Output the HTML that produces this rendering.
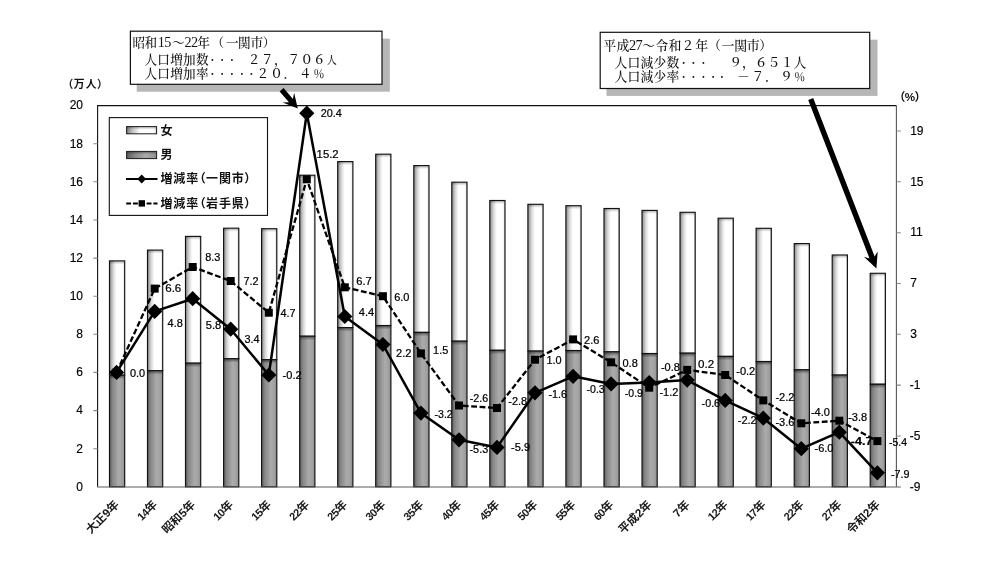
<!DOCTYPE html>
<html lang="ja"><head><meta charset="utf-8"><title>人口の推移と増減率（一関市・岩手県）</title>
<style>html,body{margin:0;padding:0;background:#fff}body{width:997px;height:567px;overflow:hidden}svg{display:block}.n{font-family:"Liberation Sans","Noto Sans CJK JP",sans-serif}.j{font-family:"Liberation Sans","Noto Sans CJK JP",sans-serif}.m{font-family:"Liberation Serif","Noto Serif CJK SC",serif}</style></head><body>
<svg width="997" height="567" viewBox="0 0 997 567">
<defs><linearGradient id="gf" x1="0" x2="1" y1="0" y2="0"><stop offset="0" stop-color="#7c7c7c"/><stop offset="0.10" stop-color="#ababab"/><stop offset="0.27" stop-color="#dedede"/><stop offset="0.46" stop-color="#ffffff"/><stop offset="0.88" stop-color="#ffffff"/><stop offset="1" stop-color="#c4c4c4"/></linearGradient><linearGradient id="gm" x1="0" x2="1" y1="0" y2="0"><stop offset="0" stop-color="#5c5c5c"/><stop offset="0.2" stop-color="#868686"/><stop offset="0.6" stop-color="#ababab"/><stop offset="0.85" stop-color="#a0a0a0"/><stop offset="1" stop-color="#888888"/></linearGradient><linearGradient id="gt" x1="0" x2="0" y1="0" y2="1"><stop offset="0" stop-color="#000" stop-opacity="0.45"/><stop offset="1" stop-color="#000" stop-opacity="0"/></linearGradient><linearGradient id="lf" x1="0" x2="1" y1="0" y2="0"><stop offset="0" stop-color="#7a7a7a"/><stop offset="0.2" stop-color="#c4c4c4"/><stop offset="0.45" stop-color="#ffffff"/><stop offset="0.9" stop-color="#ffffff"/><stop offset="1" stop-color="#d0d0d0"/></linearGradient><linearGradient id="lm" x1="0" x2="1" y1="0" y2="0"><stop offset="0" stop-color="#5a5a5a"/><stop offset="0.3" stop-color="#8c8c8c"/><stop offset="0.65" stop-color="#ababab"/><stop offset="1" stop-color="#8e8e8e"/></linearGradient></defs>
<rect x="0" y="0" width="997" height="567" fill="#fff"/>
<rect x="109.5" y="260.9" width="15.2" height="114.3" fill="url(#gf)" stroke="#111" stroke-width="1.15"/>
<rect x="110.0" y="261.4" width="14.2" height="3" fill="url(#gt)" opacity="0.6"/>
<rect x="109.5" y="375.2" width="15.2" height="111.6" fill="url(#gm)" stroke="#111" stroke-width="1.15"/>
<rect x="110.0" y="375.7" width="14.2" height="3.5" fill="url(#gt)"/>
<rect x="147.5" y="250.1" width="15.2" height="120.6" fill="url(#gf)" stroke="#111" stroke-width="1.15"/>
<rect x="148.0" y="250.6" width="14.2" height="3" fill="url(#gt)" opacity="0.6"/>
<rect x="147.5" y="370.7" width="15.2" height="116.1" fill="url(#gm)" stroke="#111" stroke-width="1.15"/>
<rect x="148.0" y="371.2" width="14.2" height="3.5" fill="url(#gt)"/>
<rect x="185.5" y="236.4" width="15.2" height="126.8" fill="url(#gf)" stroke="#111" stroke-width="1.15"/>
<rect x="186.0" y="236.9" width="14.2" height="3" fill="url(#gt)" opacity="0.6"/>
<rect x="185.5" y="363.2" width="15.2" height="123.6" fill="url(#gm)" stroke="#111" stroke-width="1.15"/>
<rect x="186.0" y="363.7" width="14.2" height="3.5" fill="url(#gt)"/>
<rect x="223.6" y="228.2" width="15.2" height="130.6" fill="url(#gf)" stroke="#111" stroke-width="1.15"/>
<rect x="224.1" y="228.7" width="14.2" height="3" fill="url(#gt)" opacity="0.6"/>
<rect x="223.6" y="358.7" width="15.2" height="128.1" fill="url(#gm)" stroke="#111" stroke-width="1.15"/>
<rect x="224.1" y="359.2" width="14.2" height="3.5" fill="url(#gt)"/>
<rect x="261.6" y="228.7" width="15.2" height="130.9" fill="url(#gf)" stroke="#111" stroke-width="1.15"/>
<rect x="262.1" y="229.2" width="14.2" height="3" fill="url(#gt)" opacity="0.6"/>
<rect x="261.6" y="359.7" width="15.2" height="127.1" fill="url(#gm)" stroke="#111" stroke-width="1.15"/>
<rect x="262.1" y="360.2" width="14.2" height="3.5" fill="url(#gt)"/>
<rect x="299.7" y="175.2" width="15.2" height="161.1" fill="url(#gf)" stroke="#111" stroke-width="1.15"/>
<rect x="300.2" y="175.7" width="14.2" height="3" fill="url(#gt)" opacity="0.6"/>
<rect x="299.7" y="336.2" width="15.2" height="150.6" fill="url(#gm)" stroke="#111" stroke-width="1.15"/>
<rect x="300.2" y="336.7" width="14.2" height="3.5" fill="url(#gt)"/>
<rect x="337.7" y="161.6" width="15.2" height="166.0" fill="url(#gf)" stroke="#111" stroke-width="1.15"/>
<rect x="338.2" y="162.1" width="14.2" height="3" fill="url(#gt)" opacity="0.6"/>
<rect x="337.7" y="327.6" width="15.2" height="159.2" fill="url(#gm)" stroke="#111" stroke-width="1.15"/>
<rect x="338.2" y="328.1" width="14.2" height="3.5" fill="url(#gt)"/>
<rect x="375.7" y="154.2" width="15.2" height="171.3" fill="url(#gf)" stroke="#111" stroke-width="1.15"/>
<rect x="376.2" y="154.7" width="14.2" height="3" fill="url(#gt)" opacity="0.6"/>
<rect x="375.7" y="325.6" width="15.2" height="161.2" fill="url(#gm)" stroke="#111" stroke-width="1.15"/>
<rect x="376.2" y="326.1" width="14.2" height="3.5" fill="url(#gt)"/>
<rect x="413.8" y="165.6" width="15.2" height="166.8" fill="url(#gf)" stroke="#111" stroke-width="1.15"/>
<rect x="414.3" y="166.1" width="14.2" height="3" fill="url(#gt)" opacity="0.6"/>
<rect x="413.8" y="332.4" width="15.2" height="154.4" fill="url(#gm)" stroke="#111" stroke-width="1.15"/>
<rect x="414.3" y="332.9" width="14.2" height="3.5" fill="url(#gt)"/>
<rect x="451.8" y="182.2" width="15.2" height="159.0" fill="url(#gf)" stroke="#111" stroke-width="1.15"/>
<rect x="452.3" y="182.7" width="14.2" height="3" fill="url(#gt)" opacity="0.6"/>
<rect x="451.8" y="341.2" width="15.2" height="145.6" fill="url(#gm)" stroke="#111" stroke-width="1.15"/>
<rect x="452.3" y="341.7" width="14.2" height="3.5" fill="url(#gt)"/>
<rect x="489.8" y="200.5" width="15.2" height="149.8" fill="url(#gf)" stroke="#111" stroke-width="1.15"/>
<rect x="490.3" y="201.0" width="14.2" height="3" fill="url(#gt)" opacity="0.6"/>
<rect x="489.8" y="350.3" width="15.2" height="136.5" fill="url(#gm)" stroke="#111" stroke-width="1.15"/>
<rect x="490.3" y="350.8" width="14.2" height="3.5" fill="url(#gt)"/>
<rect x="527.9" y="204.3" width="15.2" height="146.8" fill="url(#gf)" stroke="#111" stroke-width="1.15"/>
<rect x="528.4" y="204.8" width="14.2" height="3" fill="url(#gt)" opacity="0.6"/>
<rect x="527.9" y="351.1" width="15.2" height="135.7" fill="url(#gm)" stroke="#111" stroke-width="1.15"/>
<rect x="528.4" y="351.6" width="14.2" height="3.5" fill="url(#gt)"/>
<rect x="565.9" y="205.7" width="15.2" height="144.9" fill="url(#gf)" stroke="#111" stroke-width="1.15"/>
<rect x="566.4" y="206.2" width="14.2" height="3" fill="url(#gt)" opacity="0.6"/>
<rect x="565.9" y="350.5" width="15.2" height="136.3" fill="url(#gm)" stroke="#111" stroke-width="1.15"/>
<rect x="566.4" y="351.0" width="14.2" height="3.5" fill="url(#gt)"/>
<rect x="604.0" y="208.5" width="15.2" height="143.3" fill="url(#gf)" stroke="#111" stroke-width="1.15"/>
<rect x="604.5" y="209.0" width="14.2" height="3" fill="url(#gt)" opacity="0.6"/>
<rect x="604.0" y="351.9" width="15.2" height="134.9" fill="url(#gm)" stroke="#111" stroke-width="1.15"/>
<rect x="604.5" y="352.4" width="14.2" height="3.5" fill="url(#gt)"/>
<rect x="642.0" y="210.4" width="15.2" height="143.1" fill="url(#gf)" stroke="#111" stroke-width="1.15"/>
<rect x="642.5" y="210.9" width="14.2" height="3" fill="url(#gt)" opacity="0.6"/>
<rect x="642.0" y="353.6" width="15.2" height="133.2" fill="url(#gm)" stroke="#111" stroke-width="1.15"/>
<rect x="642.5" y="354.1" width="14.2" height="3.5" fill="url(#gt)"/>
<rect x="680.0" y="212.3" width="15.2" height="140.9" fill="url(#gf)" stroke="#111" stroke-width="1.15"/>
<rect x="680.5" y="212.8" width="14.2" height="3" fill="url(#gt)" opacity="0.6"/>
<rect x="680.0" y="353.2" width="15.2" height="133.6" fill="url(#gm)" stroke="#111" stroke-width="1.15"/>
<rect x="680.5" y="353.7" width="14.2" height="3.5" fill="url(#gt)"/>
<rect x="718.1" y="218.2" width="15.2" height="138.2" fill="url(#gf)" stroke="#111" stroke-width="1.15"/>
<rect x="718.6" y="218.7" width="14.2" height="3" fill="url(#gt)" opacity="0.6"/>
<rect x="718.1" y="356.4" width="15.2" height="130.4" fill="url(#gm)" stroke="#111" stroke-width="1.15"/>
<rect x="718.6" y="356.9" width="14.2" height="3.5" fill="url(#gt)"/>
<rect x="756.1" y="228.3" width="15.2" height="133.2" fill="url(#gf)" stroke="#111" stroke-width="1.15"/>
<rect x="756.6" y="228.8" width="14.2" height="3" fill="url(#gt)" opacity="0.6"/>
<rect x="756.1" y="361.6" width="15.2" height="125.2" fill="url(#gm)" stroke="#111" stroke-width="1.15"/>
<rect x="756.6" y="362.1" width="14.2" height="3.5" fill="url(#gt)"/>
<rect x="794.2" y="243.6" width="15.2" height="126.2" fill="url(#gf)" stroke="#111" stroke-width="1.15"/>
<rect x="794.7" y="244.1" width="14.2" height="3" fill="url(#gt)" opacity="0.6"/>
<rect x="794.2" y="369.8" width="15.2" height="117.0" fill="url(#gm)" stroke="#111" stroke-width="1.15"/>
<rect x="794.7" y="370.3" width="14.2" height="3.5" fill="url(#gt)"/>
<rect x="832.2" y="255.0" width="15.2" height="120.1" fill="url(#gf)" stroke="#111" stroke-width="1.15"/>
<rect x="832.7" y="255.5" width="14.2" height="3" fill="url(#gt)" opacity="0.6"/>
<rect x="832.2" y="375.1" width="15.2" height="111.7" fill="url(#gm)" stroke="#111" stroke-width="1.15"/>
<rect x="832.7" y="375.6" width="14.2" height="3.5" fill="url(#gt)"/>
<rect x="870.2" y="273.3" width="15.2" height="110.9" fill="url(#gf)" stroke="#111" stroke-width="1.15"/>
<rect x="870.7" y="273.8" width="14.2" height="3" fill="url(#gt)" opacity="0.6"/>
<rect x="870.2" y="384.3" width="15.2" height="102.5" fill="url(#gm)" stroke="#111" stroke-width="1.15"/>
<rect x="870.7" y="384.8" width="14.2" height="3.5" fill="url(#gt)"/>
<path d="M97.6 486.8V105.6H896.4" fill="none" stroke="#111" stroke-width="1.1"/>
<path d="M896.4 105.6V486.8" fill="none" stroke="#555" stroke-width="1.1"/>
<path d="M97.1 487.0H900.8" fill="none" stroke="#5a5a5a" stroke-width="1.2"/>
<path d="M93.39999999999999 448.7H97.6M93.39999999999999 410.6H97.6M93.39999999999999 372.4H97.6M93.39999999999999 334.3H97.6M93.39999999999999 296.2H97.6M93.39999999999999 258.1H97.6M93.39999999999999 220.0H97.6M93.39999999999999 181.8H97.6M93.39999999999999 143.7H97.6M896.4 436.0H900.8M896.4 385.1H900.8M896.4 334.3H900.8M896.4 283.5H900.8M896.4 232.7H900.8M896.4 181.8H900.8M896.4 131.0H900.8" fill="none" stroke="#888" stroke-width="1.1"/>
<g class="n" font-size="12" fill="#000" stroke="#000" stroke-width="0.15">
<text x="83" y="490.6" text-anchor="end">0</text>
<text x="83" y="452.5" text-anchor="end">2</text>
<text x="83" y="414.4" text-anchor="end">4</text>
<text x="83" y="376.2" text-anchor="end">6</text>
<text x="83" y="338.1" text-anchor="end">8</text>
<text x="83" y="300.0" text-anchor="end">10</text>
<text x="83" y="261.9" text-anchor="end">12</text>
<text x="83" y="223.8" text-anchor="end">14</text>
<text x="83" y="185.6" text-anchor="end">16</text>
<text x="83" y="147.5" text-anchor="end">18</text>
<text x="83" y="109.4" text-anchor="end">20</text>
<text x="909.8" y="490.5">-9</text>
<text x="909.8" y="439.7">-5</text>
<text x="909.8" y="388.8">-1</text>
<text x="910.2" y="338.0">3</text>
<text x="910.2" y="287.2">7</text>
<text x="910.2" y="236.4">11</text>
<text x="910.2" y="185.5">15</text>
<text x="910.2" y="134.7">19</text>
</g>
<text class="j" x="67.4" y="88.2" font-size="10.8" font-weight="bold" fill="#111" style="font-feature-settings:'palt'" textLength="35.6" lengthAdjust="spacing">（万人）</text>
<text class="j" x="899.0" y="100.8" font-size="11.6" font-weight="bold" fill="#111" style="font-feature-settings:'palt'">（%）</text>
<g class="j" font-size="11.6" font-weight="bold" fill="#1a1a1a" text-anchor="end">
<text transform="translate(119.8 505.2) rotate(-45)">大正9年</text>
<text transform="translate(157.9 505.2) rotate(-45)"><tspan font-size="11" letter-spacing="-0.5">14</tspan>年</text>
<text transform="translate(195.9 505.2) rotate(-45)">昭和5年</text>
<text transform="translate(233.9 505.2) rotate(-45)"><tspan font-size="11" letter-spacing="-0.5">10</tspan>年</text>
<text transform="translate(272.0 505.2) rotate(-45)"><tspan font-size="11" letter-spacing="-0.5">15</tspan>年</text>
<text transform="translate(310.0 505.2) rotate(-45)"><tspan font-size="11" letter-spacing="-0.5">22</tspan>年</text>
<text transform="translate(348.0 505.2) rotate(-45)"><tspan font-size="11" letter-spacing="-0.5">25</tspan>年</text>
<text transform="translate(386.1 505.2) rotate(-45)"><tspan font-size="11" letter-spacing="-0.5">30</tspan>年</text>
<text transform="translate(424.1 505.2) rotate(-45)"><tspan font-size="11" letter-spacing="-0.5">35</tspan>年</text>
<text transform="translate(462.2 505.2) rotate(-45)"><tspan font-size="11" letter-spacing="-0.5">40</tspan>年</text>
<text transform="translate(500.2 505.2) rotate(-45)"><tspan font-size="11" letter-spacing="-0.5">45</tspan>年</text>
<text transform="translate(538.2 505.2) rotate(-45)"><tspan font-size="11" letter-spacing="-0.5">50</tspan>年</text>
<text transform="translate(576.3 505.2) rotate(-45)"><tspan font-size="11" letter-spacing="-0.5">55</tspan>年</text>
<text transform="translate(614.3 505.2) rotate(-45)"><tspan font-size="11" letter-spacing="-0.5">60</tspan>年</text>
<text transform="translate(652.4 505.2) rotate(-45)">平成2年</text>
<text transform="translate(690.4 505.2) rotate(-45)">7年</text>
<text transform="translate(728.4 505.2) rotate(-45)"><tspan font-size="11" letter-spacing="-0.5">12</tspan>年</text>
<text transform="translate(766.5 505.2) rotate(-45)"><tspan font-size="11" letter-spacing="-0.5">17</tspan>年</text>
<text transform="translate(804.5 505.2) rotate(-45)"><tspan font-size="11" letter-spacing="-0.5">22</tspan>年</text>
<text transform="translate(842.5 505.2) rotate(-45)"><tspan font-size="11" letter-spacing="-0.5">27</tspan>年</text>
<text transform="translate(880.6 505.2) rotate(-45)">令和2年</text>
</g>
<rect x="109.3" y="117.6" width="158.2" height="97.8" fill="#fff" stroke="#111" stroke-width="1.1"/>
<rect x="126.6" y="126.6" width="30" height="7.2" fill="url(#lf)" stroke="#1a1a1a" stroke-width="1"/>
<rect x="126.6" y="151.4" width="30" height="7.2" fill="url(#lm)" stroke="#1a1a1a" stroke-width="1"/>
<rect x="127.1" y="127.1" width="29" height="2.6" fill="url(#gt)" opacity="0.55"/>
<rect x="127.1" y="151.9" width="29" height="2.6" fill="url(#gt)" opacity="0.7"/>
<g class="j" font-size="12" font-weight="bold" fill="#111">
<text x="160.4" y="134.6">女</text>
<text x="160.4" y="159.4">男</text>
<text x="160.4" y="183.4" style="font-feature-settings:'palt'" textLength="90.4" lengthAdjust="spacing">増減率（一関市）</text>
<text x="160.4" y="207.8" style="font-feature-settings:'palt'" textLength="90.4" lengthAdjust="spacing">増減率（岩手県）</text>
</g>
<path d="M126 179H157.5" stroke="#000" stroke-width="2" fill="none"/>
<path d="M141.7 174.6L146.1 179L141.7 183.4L137.3 179Z" fill="#000"/>
<path d="M126.2 203.4H157.5" stroke="#000" stroke-width="2" stroke-dasharray="4.9 1.9" fill="none"/>
<rect x="138.6" y="200.2" width="6.4" height="6.4" fill="#000"/>
<polyline points="116.6,372.4 154.7,288.6 192.7,267.0 230.7,281.0 268.8,312.7 306.8,179.3 344.8,287.3 382.9,296.2 420.9,353.4 459.0,405.5 497.0,408.0 535.0,359.7 573.1,339.4 611.1,362.3 649.2,387.7 687.2,369.9 725.2,375.0 763.3,400.4 801.3,423.3 839.3,420.7 877.4,441.1" fill="none" stroke="#000" stroke-width="2.3" stroke-dasharray="5.8 2.6" stroke-linejoin="round"/>
<rect x="112.6" y="368.4" width="8" height="8" fill="#000"/>
<rect x="150.7" y="284.6" width="8" height="8" fill="#000"/>
<rect x="188.7" y="263.0" width="8" height="8" fill="#000"/>
<rect x="226.7" y="277.0" width="8" height="8" fill="#000"/>
<rect x="264.8" y="308.7" width="8" height="8" fill="#000"/>
<rect x="302.8" y="175.3" width="8" height="8" fill="#000"/>
<rect x="340.8" y="283.3" width="8" height="8" fill="#000"/>
<rect x="378.9" y="292.2" width="8" height="8" fill="#000"/>
<rect x="416.9" y="349.4" width="8" height="8" fill="#000"/>
<rect x="455.0" y="401.5" width="8" height="8" fill="#000"/>
<rect x="493.0" y="404.0" width="8" height="8" fill="#000"/>
<rect x="531.0" y="355.7" width="8" height="8" fill="#000"/>
<rect x="569.1" y="335.4" width="8" height="8" fill="#000"/>
<rect x="607.1" y="358.3" width="8" height="8" fill="#000"/>
<rect x="645.2" y="383.7" width="8" height="8" fill="#000"/>
<rect x="683.2" y="365.9" width="8" height="8" fill="#000"/>
<rect x="721.2" y="371.0" width="8" height="8" fill="#000"/>
<rect x="759.3" y="396.4" width="8" height="8" fill="#000"/>
<rect x="797.3" y="419.3" width="8" height="8" fill="#000"/>
<rect x="835.3" y="416.7" width="8" height="8" fill="#000"/>
<rect x="873.4" y="437.1" width="8" height="8" fill="#000"/>
<polyline points="116.6,372.4 154.7,311.4 192.7,298.7 230.7,329.2 268.8,375.0 306.8,113.2 344.8,316.5 382.9,344.5 420.9,413.1 459.0,439.8 497.0,447.4 535.0,392.8 573.1,376.3 611.1,383.9 649.2,382.6 687.2,380.1 725.2,400.4 763.3,418.2 801.3,448.7 839.3,432.2 877.4,472.8" fill="none" stroke="#000" stroke-width="2.5" stroke-linejoin="round"/>
<path d="M116.6 364.8L124.2 372.4L116.6 380.0L109.0 372.4Z" fill="#000"/>
<path d="M154.7 303.8L162.3 311.4L154.7 319.0L147.1 311.4Z" fill="#000"/>
<path d="M192.7 291.1L200.3 298.7L192.7 306.3L185.1 298.7Z" fill="#000"/>
<path d="M230.7 321.6L238.3 329.2L230.7 336.8L223.1 329.2Z" fill="#000"/>
<path d="M268.8 367.4L276.4 375.0L268.8 382.6L261.2 375.0Z" fill="#000"/>
<path d="M306.8 105.6L314.4 113.2L306.8 120.8L299.2 113.2Z" fill="#000"/>
<path d="M344.8 308.9L352.4 316.5L344.8 324.1L337.2 316.5Z" fill="#000"/>
<path d="M382.9 336.9L390.5 344.5L382.9 352.1L375.3 344.5Z" fill="#000"/>
<path d="M420.9 405.5L428.5 413.1L420.9 420.7L413.3 413.1Z" fill="#000"/>
<path d="M459.0 432.2L466.6 439.8L459.0 447.4L451.4 439.8Z" fill="#000"/>
<path d="M497.0 439.8L504.6 447.4L497.0 455.0L489.4 447.4Z" fill="#000"/>
<path d="M535.0 385.2L542.6 392.8L535.0 400.4L527.4 392.8Z" fill="#000"/>
<path d="M573.1 368.7L580.7 376.3L573.1 383.9L565.5 376.3Z" fill="#000"/>
<path d="M611.1 376.3L618.7 383.9L611.1 391.5L603.5 383.9Z" fill="#000"/>
<path d="M649.2 375.0L656.8 382.6L649.2 390.2L641.6 382.6Z" fill="#000"/>
<path d="M687.2 372.5L694.8 380.1L687.2 387.7L679.6 380.1Z" fill="#000"/>
<path d="M725.2 392.8L732.8 400.4L725.2 408.0L717.6 400.4Z" fill="#000"/>
<path d="M763.3 410.6L770.9 418.2L763.3 425.8L755.7 418.2Z" fill="#000"/>
<path d="M801.3 441.1L808.9 448.7L801.3 456.3L793.7 448.7Z" fill="#000"/>
<path d="M839.3 424.6L846.9 432.2L839.3 439.8L831.7 432.2Z" fill="#000"/>
<path d="M877.4 465.2L885.0 472.8L877.4 480.4L869.8 472.8Z" fill="#000"/>
<g class="n" font-size="10.7" fill="#000" stroke="#000" stroke-width="0.22">
<text x="130.0" y="376.9" textLength="15.2" lengthAdjust="spacingAndGlyphs">0.0</text>
<text x="167.6" y="327.3" textLength="15.2" lengthAdjust="spacingAndGlyphs">4.8</text>
<text x="205.8" y="329.4" textLength="15.5" lengthAdjust="spacingAndGlyphs">5.8</text>
<text x="244.4" y="342.9" textLength="15.1" lengthAdjust="spacingAndGlyphs">3.4</text>
<text x="282.6" y="379.0" textLength="19.0" lengthAdjust="spacingAndGlyphs">-0.2</text>
<text x="320.7" y="116.9" textLength="21.1" lengthAdjust="spacingAndGlyphs">20.4</text>
<text x="358.7" y="315.6" textLength="15.5" lengthAdjust="spacingAndGlyphs">4.4</text>
<text x="396.1" y="356.5" textLength="15.4" lengthAdjust="spacingAndGlyphs">2.2</text>
<text x="434.5" y="417.6" textLength="18.2" lengthAdjust="spacingAndGlyphs">-3.2</text>
<text x="469.5" y="453.4" textLength="18.7" lengthAdjust="spacingAndGlyphs">-5.3</text>
<text x="511.0" y="451.3" textLength="19.1" lengthAdjust="spacingAndGlyphs">-5.9</text>
<text x="548.5" y="397.7" textLength="18.6" lengthAdjust="spacingAndGlyphs">-1.6</text>
<text x="586.5" y="393.2" textLength="18.2" lengthAdjust="spacingAndGlyphs">-0.3</text>
<text x="624.8" y="396.5" textLength="18.1" lengthAdjust="spacingAndGlyphs">-0.9</text>
<text x="660.9" y="371.0" textLength="19.0" lengthAdjust="spacingAndGlyphs">-0.8</text>
<text x="701.6" y="406.9" textLength="18.5" lengthAdjust="spacingAndGlyphs">-0.6</text>
<text x="737.7" y="424.1" textLength="19.1" lengthAdjust="spacingAndGlyphs">-2.2</text>
<text x="775.4" y="425.6" textLength="19.0" lengthAdjust="spacingAndGlyphs">-3.6</text>
<text x="814.5" y="452.1" textLength="19.0" lengthAdjust="spacingAndGlyphs">-6.0</text>
<text x="850.8" y="444.7" textLength="21.7" lengthAdjust="spacingAndGlyphs" font-weight="bold">-4.7</text>
<text x="891.0" y="478.0" textLength="18.6" lengthAdjust="spacingAndGlyphs" font-size="10.4">-7.9</text>
<text x="165.2" y="291.9" textLength="16.1" lengthAdjust="spacingAndGlyphs">6.6</text>
<text x="205.2" y="260.6" textLength="15.2" lengthAdjust="spacingAndGlyphs">8.3</text>
<text x="243.5" y="284.6" textLength="15.1" lengthAdjust="spacingAndGlyphs">7.2</text>
<text x="280.5" y="317.4" textLength="15.0" lengthAdjust="spacingAndGlyphs">4.7</text>
<text x="316.6" y="158.2" textLength="22.1" lengthAdjust="spacingAndGlyphs">15.2</text>
<text x="356.3" y="285.3" textLength="15.5" lengthAdjust="spacingAndGlyphs">6.7</text>
<text x="394.2" y="300.6" textLength="15.3" lengthAdjust="spacingAndGlyphs">6.0</text>
<text x="433.1" y="354.1" textLength="15.1" lengthAdjust="spacingAndGlyphs">1.5</text>
<text x="469.8" y="401.6" textLength="18.4" lengthAdjust="spacingAndGlyphs">-2.6</text>
<text x="508.3" y="404.6" textLength="18.8" lengthAdjust="spacingAndGlyphs">-2.8</text>
<text x="546.5" y="364.0" textLength="15.2" lengthAdjust="spacingAndGlyphs">1.0</text>
<text x="584.1" y="343.8" textLength="15.4" lengthAdjust="spacingAndGlyphs">2.6</text>
<text x="622.5" y="367.0" textLength="15.3" lengthAdjust="spacingAndGlyphs">0.8</text>
<text x="659.4" y="396.3" textLength="19.0" lengthAdjust="spacingAndGlyphs">-1.2</text>
<text x="698.0" y="367.8" textLength="16.1" lengthAdjust="spacingAndGlyphs">0.2</text>
<text x="736.2" y="375.3" textLength="19.1" lengthAdjust="spacingAndGlyphs">-0.2</text>
<text x="775.4" y="400.6" textLength="19.0" lengthAdjust="spacingAndGlyphs">-2.2</text>
<text x="810.9" y="416.0" textLength="19.0" lengthAdjust="spacingAndGlyphs">-4.0</text>
<text x="848.2" y="421.1" textLength="19.0" lengthAdjust="spacingAndGlyphs">-3.8</text>
<text x="888.9" y="445.6" textLength="18.1" lengthAdjust="spacingAndGlyphs" font-size="10.4">-5.4</text>
</g>
<rect x="136.7" y="38.6" width="253.1" height="53.1" fill="#b6b6b6"/>
<rect x="130.4" y="31.2" width="251.6" height="53.1" fill="#fff" stroke="#111" stroke-width="1.2"/>
<text class="m" font-size="12.6" font-weight="500" fill="#111"><tspan x="132.5 144.6" y="46.8">昭和</tspan><tspan x="157.8 164.3" y="46.8" font-size="14.2">15</tspan><tspan x="172.0" y="46.8">～</tspan><tspan x="184.4 190.9" y="46.8" font-size="14.2">22</tspan><tspan x="197.2" y="46.8">年</tspan><tspan x="211.5" y="46.8">（</tspan><tspan x="226.0 238.0 250.6" y="46.8">一関市</tspan><tspan x="262.7" y="46.8">）</tspan></text>
<text class="m" font-size="12.6" font-weight="500" fill="#111"><tspan x="144.5 157.3 170.2 183.1 195.9" y="64.2">人口増加数</tspan><tspan x="209.9 219.7 229.5" y="62.6" font-size="9.6">･･･</tspan><tspan x="247.7 261.0 274.1 287.4 300.4 313.0" y="64.2">２７，７０６</tspan><tspan x="326.8" y="64.2" font-size="10">人</tspan></text>
<text class="m" font-size="12.6" font-weight="500" fill="#111"><tspan x="144.5 157.3 170.2 183.1 195.9" y="78.4">人口増加率</tspan><tspan x="209.9 219.7 229.5 239.4 248.9" y="76.8" font-size="9.6">･････</tspan><tspan x="256.5 270.2 283.6 299.0" y="78.4">２０．４</tspan><tspan x="313.4" y="78.4" font-size="11">％</tspan></text>
<rect x="606.5" y="39.7" width="271.0" height="56.2" fill="#b6b6b6"/>
<rect x="600.2" y="32.3" width="269.5" height="56.2" fill="#fff" stroke="#111" stroke-width="1.2"/>
<text class="m" font-size="12.9" font-weight="500" fill="#111"><tspan x="603.3 616.6" y="50.2">平成</tspan><tspan x="629.0 635.6" y="50.2" font-size="14.4">27</tspan><tspan x="641.9" y="50.2">～</tspan><tspan x="655.2 668.5" y="50.2">令和</tspan><tspan x="681.5" y="50.2">２</tspan><tspan x="695.2" y="50.2">年</tspan><tspan x="708.0" y="50.2">（</tspan><tspan x="721.6 734.3 746.8" y="50.2">一関市</tspan><tspan x="759.2" y="50.2">）</tspan></text>
<text class="m" font-size="12.8" font-weight="500" fill="#111"><tspan x="614.5 627.5 640.5 653.4 666.4" y="67.1">人口減少数</tspan><tspan x="681.3 691.1 700.9" y="65.5" font-size="9.6">･･･</tspan><tspan x="729.2 742.0 754.8 767.6 780.8 793.5" y="67.1">９，６５１人</tspan></text>
<text class="m" font-size="12.8" font-weight="500" fill="#111"><tspan x="614.5 627.5 640.5 653.4 666.4" y="81.2">人口減少率</tspan><tspan x="681.3 691.1 700.9 710.8 719.6" y="79.6" font-size="9.6">･････</tspan><tspan x="737.1 751.4 765.1 779.9" y="81.2">－７．９</tspan><tspan x="794.2" y="81.2" font-size="11">％</tspan></text>
<path d="M279.6 91.4L289.0 102.3L282.7 102.5L297.8 108.6L294.1 92.7L292.9 98.9L283.6 88.0Z" fill="#000"/>
<path d="M808.2 100.0L869.5 258.4L863.9 256.8L876.4 268.6L877.7 251.5L874.6 256.4L813.2 98.0Z" fill="#000"/>
</svg></body></html>
